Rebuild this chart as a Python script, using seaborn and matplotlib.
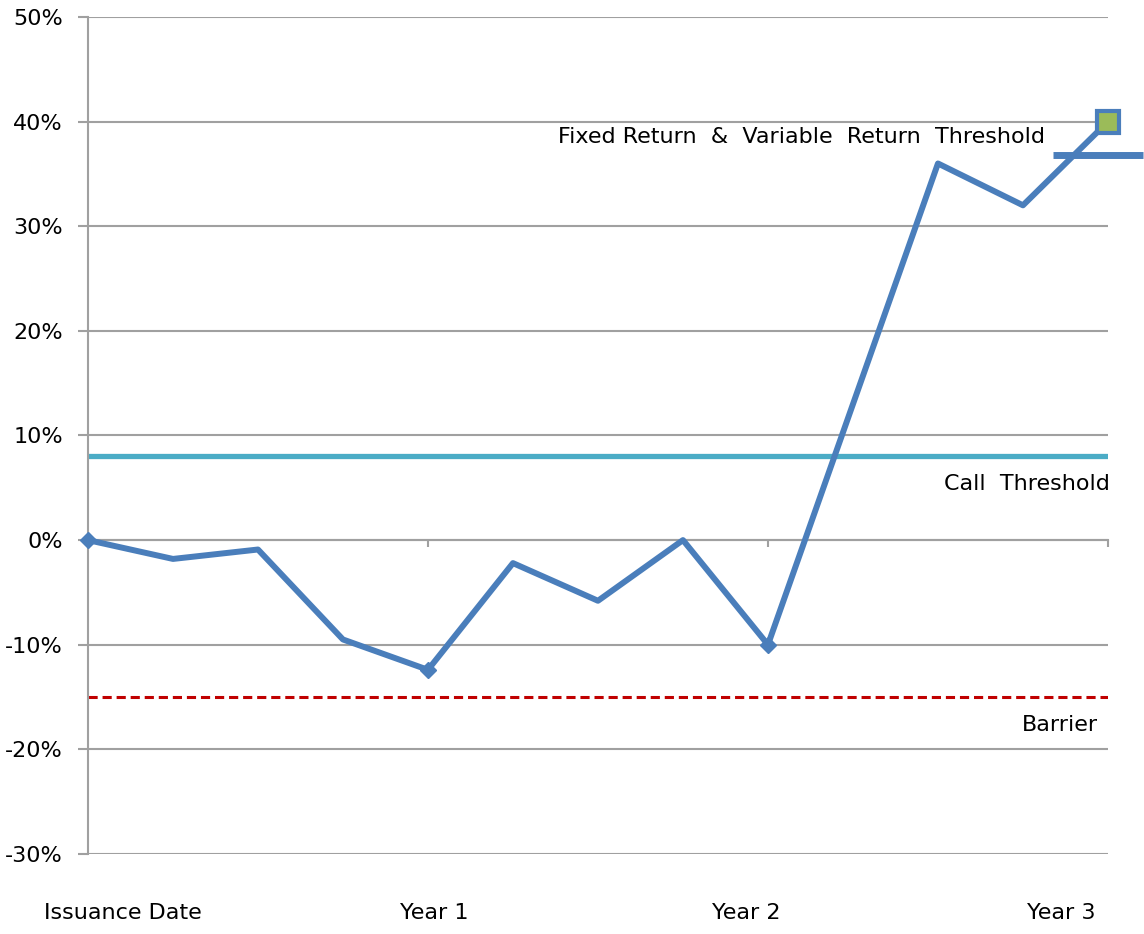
import pandas as pd
import matplotlib.pyplot as plt
import seaborn as sns

# Данные: квартальная доходность базового актива, %
quarters = list(range(13))
returns = [0, -1.8, -0.9, -9.5, -12.4, -2.2, -5.8, 0, -10, 13, 36, 32, 40]

call_threshold = 8
barrier = -15
fixed_threshold = 36.8

x_labels = ['Issuance Date', 'Year 1', 'Year 2', 'Year 3']
x_label_pos = [0.41, 4.07, 7.75, 11.45]
y_ticks = [-30, -20, -10, 0, 10, 20, 30, 40, 50]

df = pd.DataFrame({'quarter': quarters, 'return': returns})

sns.set_style('white')
plt.rcParams['font.family'] = ['DejaVu Sans']

blue = '#4A7EBB'
grid_c = '#A0A0A0'

fig = plt.figure(figsize=(11.44, 9.34), dpi=100)
ax = fig.add_axes([0.0769, 0.0857, 0.8916, 0.8961])

ax.set_xlim(0, 12)
ax.set_ylim(-30, 50)
ax.set_yticks(y_ticks)
ax.set_yticklabels([f'{v}%' for v in y_ticks])
ax.yaxis.grid(True, color=grid_c, lw=1.5)
ax.set_axisbelow(True)

# Уровни
ax.axhline(call_threshold, color='#4BACC6', lw=3.8, zorder=2)
ax.axhline(barrier, color='#C00000', lw=2.2, ls=(0, (3, 1.6)), zorder=2)

# Основная линия
sns.lineplot(data=df, x='quarter', y='return', ax=ax, color=blue, lw=4.3,
             zorder=3, clip_on=False)
key = df[df['quarter'].isin([0, 4, 8])]
ax.plot(key['quarter'], key['return'], ls='none', marker='D', ms=8,
        color=blue, zorder=4, clip_on=False)
ax.plot([quarters[-1]], [returns[-1]], ls='none', marker='s', ms=16,
        mfc='#9BBB59', mec=blue, mew=3, zorder=5, clip_on=False)
ax.plot([11.35, 12.41], [fixed_threshold, fixed_threshold], color=blue,
        lw=5, zorder=4, clip_on=False, solid_capstyle='butt')

# Оси
for s in ['top', 'right']:
    ax.spines[s].set_visible(False)
ax.spines['left'].set_color(grid_c)
ax.spines['left'].set_linewidth(1.5)
ax.spines['bottom'].set_position(('data', 0))
ax.spines['bottom'].set_color(grid_c)
ax.spines['bottom'].set_linewidth(1.5)
ax.set_xticks([4, 8, 12])
ax.set_xticklabels([])
ax.tick_params(axis='x', bottom=True, direction='out', length=5, width=1.5,
               color=grid_c)
ax.tick_params(axis='y', left=True, direction='out', length=7, width=1.5,
               color=grid_c, pad=11, labelsize=16, labelcolor='black')
ax.set_xlabel('')
ax.set_ylabel('')

for lbl, xp in zip(x_labels, x_label_pos):
    ax.text(xp, -35.6, lbl, ha='center', va='center', fontsize=16,
            color='black', clip_on=False)

ax.text(11.26, 38.5, 'Fixed Return  &  Variable  Return  Threshold',
        ha='right', va='center', fontsize=16, color='black')
ax.text(12.02, 5.4, 'Call  Threshold', ha='right', va='center', fontsize=16,
        color='black')
ax.text(11.88, -17.7, 'Barrier', ha='right', va='center', fontsize=16,
        color='black')

plt.savefig('out.png', dpi=100)
